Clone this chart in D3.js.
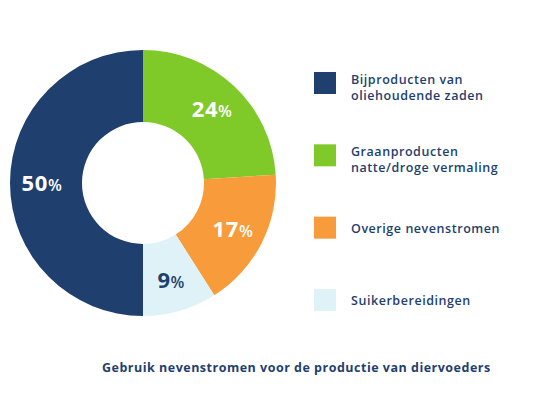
<!DOCTYPE html>
<html>
<head>
  <meta charset="utf-8">
  <script src="https://d3js.org/d3.v7.min.js"></script>
  <style>
    body { margin: 0; background: #ffffff; }
    svg text { font-family: "Open Sans", sans-serif; }
  </style>
</head>
<body>
  <svg id="chart" width="560" height="404" viewBox="0 0 560 404"
    xmlns="http://www.w3.org/2000/svg"></svg>
  <script>
    // slices, clockwise from 12 o'clock
    var categories = ["Graanproducten natte/droge vermaling", "Overige nevenstromen",
                      "Suikerbereidingen", "Bijproducten van oliehoudende zaden"];
    var values = [24, 17, 9, 50];
    var colors = ["#7fca28", "#f89c3b", "#dff2f8", "#1f3f6e"];
    var labelColors = ["#ffffff", "#ffffff", "#1f3f6e", "#ffffff"];

    // legend order as in the picture
    var legendLines = [
      ["Bijproducten van", "oliehoudende zaden"],
      ["Graanproducten", "natte/droge vermaling"],
      ["Overige nevenstromen"],
      ["Suikerbereidingen"]
    ];
    var legendColors = ["#1f3f6e", "#7fca28", "#f89c3b", "#dff2f8"];
    var title = "Gebruik nevenstromen voor de productie van diervoeders";

    var svg = d3.select("#chart");
    var cx = 143, cy = 183, outerR = 133, innerR = 61, labelR = 101;

    var pie = d3.pie().sort(null).value(function(d) { return d; });
    var arc = d3.arc().innerRadius(innerR).outerRadius(outerR);
    var labelArc = d3.arc().innerRadius(labelR).outerRadius(labelR);

    var g = svg.append("g").attr("transform", "translate(" + cx + "," + cy + ")");
    var arcs = pie(values);

    g.selectAll("path")
      .data(arcs)
      .enter().append("path")
      .attr("d", arc)
      .attr("fill", function(d, i) { return colors[i]; });

    var labels = g.selectAll("text.pct")
      .data(arcs)
      .enter().append("text")
      .attr("class", "pct")
      .attr("text-anchor", "middle")
      .attr("letter-spacing", "0.6px")
      .attr("transform", function(d) {
        var c = labelArc.centroid(d);
        return "translate(" + c[0] + "," + (c[1] + 8) + ")";
      })
      .attr("fill", function(d, i) { return labelColors[i]; });
    labels.append("tspan")
      .attr("font-size", "22px")
      .attr("font-weight", 700)
      .text(function(d) { return d.data; });
    labels.append("tspan")
      .attr("font-size", "16px")
      .attr("font-weight", 600)
      .text("%");

    // legend
    var legendY = d3.scalePoint()
      .domain(d3.range(legendLines.length))
      .range([83, 300]);

    var leg = svg.selectAll("g.leg")
      .data(legendLines)
      .enter().append("g")
      .attr("class", "leg")
      .attr("transform", function(d, i) { return "translate(314," + legendY(i) + ")"; });
    leg.append("rect")
      .attr("x", 0).attr("y", -11)
      .attr("width", 22).attr("height", 22)
      .attr("fill", function(d, i) { return legendColors[i]; });
    leg.each(function(lines) {
      var sel = d3.select(this);
      var y0 = lines.length > 1 ? 1 : 5;
      lines.forEach(function(s, j) {
        sel.append("text")
          .attr("x", 37).attr("y", y0 + j * 16)
          .attr("fill", "#1f3f6e")
          .attr("font-size", "12.5px")
          .attr("font-weight", 600)
          .attr("letter-spacing", "0.55px")
          .text(s);
      });
    });

    svg.append("text")
      .attr("x", 102).attr("y", 372)
      .attr("fill", "#1f3f6e")
      .attr("font-size", "12.5px")
      .attr("font-weight", 700)
      .attr("letter-spacing", "0.5px")
      .text(title);
  </script>
</body>
</html>
